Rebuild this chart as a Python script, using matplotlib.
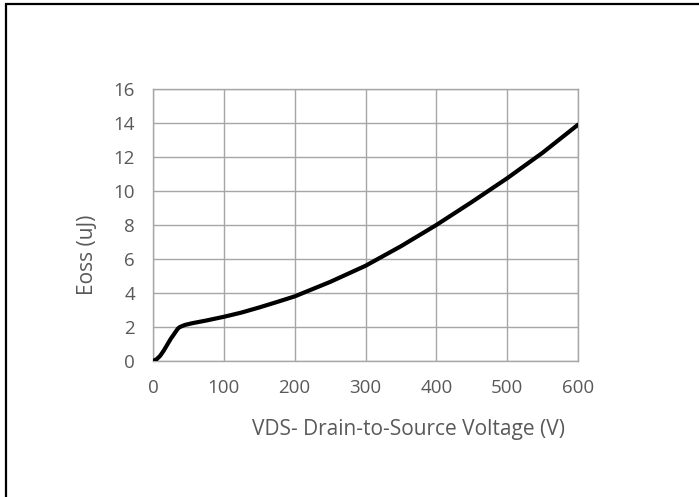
import matplotlib
matplotlib.use("Agg")
import matplotlib.pyplot as plt
from matplotlib.lines import Line2D
import numpy as np

# Eoss vs VDS
vds = [0, 5, 10, 15, 20, 25, 30, 35, 38, 45, 55, 75, 100, 125, 150, 175, 200,
       250, 300, 350, 400, 450, 500, 550, 600]
eoss = [0.0, 0.1, 0.3, 0.6, 0.95, 1.3, 1.6, 1.9, 2.0, 2.12, 2.22, 2.38, 2.6,
        2.85, 3.15, 3.47, 3.8, 4.65, 5.6, 6.75, 8.0, 9.35, 10.75, 12.25, 13.9]
x_ticks = [0, 100, 200, 300, 400, 500, 600]
y_ticks = [0, 2, 4, 6, 8, 10, 12, 14, 16]

text_color = "#595959"
grid_color = "#a6a6a6"
plt.rcParams["font.family"] = ["Open Sans", "DejaVu Sans"]

fig = plt.figure(figsize=(6.99, 4.97), dpi=100)
ax = fig.add_axes([153 / 699, 1 - 361 / 497, 425 / 699, 272 / 497])

ax.plot(vds, eoss, color="black", linewidth=3, solid_capstyle="round",
        solid_joinstyle="round", zorder=3)

ax.set_xlim(0, 600)
ax.set_ylim(0, 16)
ax.set_xticks(x_ticks)
ax.set_yticks(y_ticks)
ax.grid(True, color=grid_color, linewidth=1)
ax.set_axisbelow(True)
for s in ax.spines.values():
    s.set_color(grid_color)
    s.set_linewidth(1)
ax.tick_params(length=0, labelsize=13.5, labelcolor=text_color, pad=13)

ax.set_xlabel("VDS- Drain-to-Source Voltage (V)", fontsize=15, color=text_color)
ax.xaxis.set_label_coords((408 - 153) / 425, (361 - 419) / 272)
ax.set_ylabel("Eoss (uJ)", fontsize=15, color=text_color)
ax.yaxis.set_label_coords((98 - 153) / 425, (361 - 255) / 272)

# frame only on the top and left edges (cropped screenshot of a bordered chart)
top_y = 1 - 4 / 497
left_x = 5.5 / 699
fig.add_artist(Line2D([4.5 / 699, 1], [top_y, top_y], transform=fig.transFigure,
                      color="black", linewidth=1.6, solid_capstyle="butt"))
fig.add_artist(Line2D([left_x, left_x], [0, 1 - 3 / 497], transform=fig.transFigure,
                      color="black", linewidth=1.6, solid_capstyle="butt"))

fig.savefig("out.png", dpi=100)
